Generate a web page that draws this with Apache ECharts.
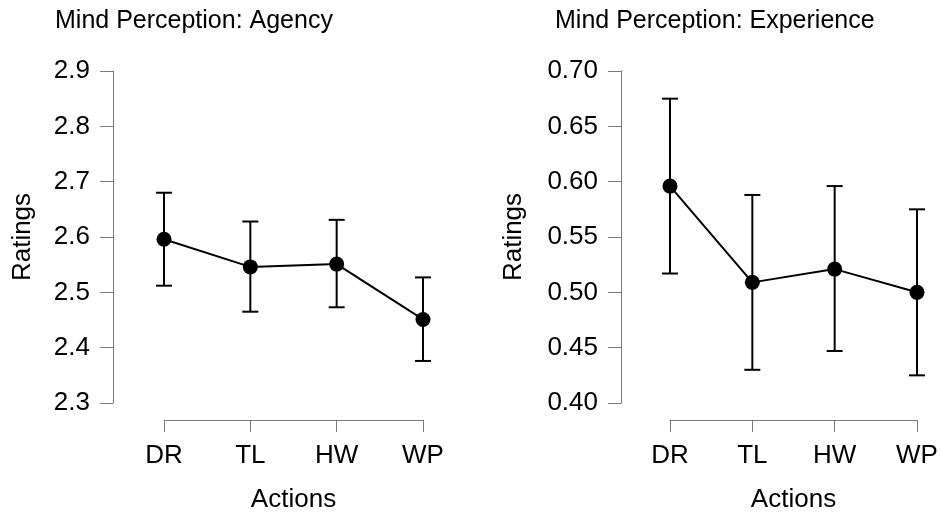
<!DOCTYPE html>
<html>
<head>
<meta charset="utf-8">
<script src="https://cdn.jsdelivr.net/npm/echarts@6/dist/echarts.min.js"></script>
<style>
  html, body { margin: 0; padding: 0; background: #fff; }
  #chart { width: 941px; height: 517px; }
</style>
</head>
<body>
<div id="chart"></div>
<script>
// data
var actions = ['DR', 'TL', 'HW', 'WP'];

var agencyMean = [2.596, 2.546, 2.551, 2.451];
var agencyLow  = [2.512, 2.465, 2.473, 2.376];
var agencyHigh = [2.680, 2.628, 2.631, 2.527];

var expMean = [0.596, 0.509, 0.521, 0.500];
var expLow  = [0.517, 0.430, 0.447, 0.425];
var expHigh = [0.675, 0.588, 0.596, 0.575];

var FONT = 'Liberation Sans, Arial, sans-serif';
var AXIS_COL = '#7a7a7a';

function errData(low, high) {
    var out = [];
    for (var i = 0; i < low.length; i++) {
        out.push([i, low[i], high[i]]);
    }
    return out;
}

// draws vertical bar with caps
function renderErr(params, api) {
    var x = api.value(0);
    var lo = api.coord([x, api.value(1)]);
    var hi = api.coord([x, api.value(2)]);
    var w = 8;
    var st = { stroke: '#000', lineWidth: 2 };
    return {
        type: 'group',
        children: [
            { type: 'line', shape: { x1: lo[0], y1: lo[1], x2: hi[0], y2: hi[1] }, style: st },
            { type: 'line', shape: { x1: lo[0] - w, y1: lo[1], x2: lo[0] + w, y2: lo[1] }, style: st },
            { type: 'line', shape: { x1: hi[0] - w, y1: hi[1], x2: hi[0] + w, y2: hi[1] }, style: st }
        ]
    };
}

function makeX(gi) {
    return {
        type: 'category',
        gridIndex: gi,
        data: actions,
        boundaryGap: false,
        offset: 17,
        axisLine: { show: true, lineStyle: { color: AXIS_COL, width: 1 } },
        axisTick: { show: true, length: 12, alignWithLabel: true, lineStyle: { color: AXIS_COL, width: 1 } },
        axisLabel: { color: '#000', fontSize: 26, fontFamily: FONT, margin: 23 },
        name: 'Actions',
        nameLocation: 'middle',
        nameGap: 67,
        nameTextStyle: { color: '#000', fontSize: 26, fontFamily: FONT },
        splitLine: { show: false }
    };
}

function makeY(gi, min, max, step, dec, off, gap) {
    return {
        type: 'value',
        gridIndex: gi,
        min: min,
        max: max,
        interval: step,
        offset: off,
        axisLine: { show: true, lineStyle: { color: AXIS_COL, width: 1 } },
        axisTick: { show: true, length: 13, lineStyle: { color: AXIS_COL, width: 1 } },
        axisLabel: {
            color: '#000', fontSize: 26, fontFamily: FONT, margin: 23,
            formatter: function (v) { return v.toFixed(dec); }
        },
        name: 'Ratings',
        nameLocation: 'middle',
        nameGap: gap,
        nameTextStyle: { color: '#000', fontSize: 26, fontFamily: FONT },
        splitLine: { show: false }
    };
}

function lineSeries(gi, data) {
    return {
        type: 'line',
        xAxisIndex: gi,
        yAxisIndex: gi,
        data: data,
        symbol: 'circle',
        symbolSize: 15,
        itemStyle: { color: '#000' },
        lineStyle: { color: '#000', width: 2 },
        z: 3,
        silent: true
    };
}

function errSeries(gi, low, high) {
    return {
        type: 'custom',
        xAxisIndex: gi,
        yAxisIndex: gi,
        data: errData(low, high),
        renderItem: renderErr,
        z: 2,
        silent: true
    };
}

var myChart = echarts.init(document.getElementById('chart'), null, { renderer: 'canvas' });

var option = {
    backgroundColor: '#fff',
    animation: false,
    title: [
        { text: 'Mind Perception: Agency', left: 50, top: 4,
          textStyle: { color: '#000', fontSize: 25, fontWeight: 'normal', fontFamily: FONT } },
        { text: 'Mind Perception: Experience', left: 550, top: 4,
          textStyle: { color: '#000', fontSize: 25, fontWeight: 'normal', fontFamily: FONT } }
    ],
    grid: [
        { left: 164, right: 518, top: 71, bottom: 114, outerBoundsMode: 'none', containLabel: false },
        { left: 670, right: 24, top: 71, bottom: 114, outerBoundsMode: 'none', containLabel: false }
    ],
    xAxis: [makeX(0), makeX(1)],
    yAxis: [
        makeY(0, 2.3, 2.9, 0.1, 1, 51, 77),
        makeY(1, 0.40, 0.70, 0.05, 2, 49, 94)
    ],
    series: [
        errSeries(0, agencyLow, agencyHigh),
        lineSeries(0, agencyMean),
        errSeries(1, expLow, expHigh),
        lineSeries(1, expMean)
    ]
};

myChart.setOption(option);
</script>
</body>
</html>
